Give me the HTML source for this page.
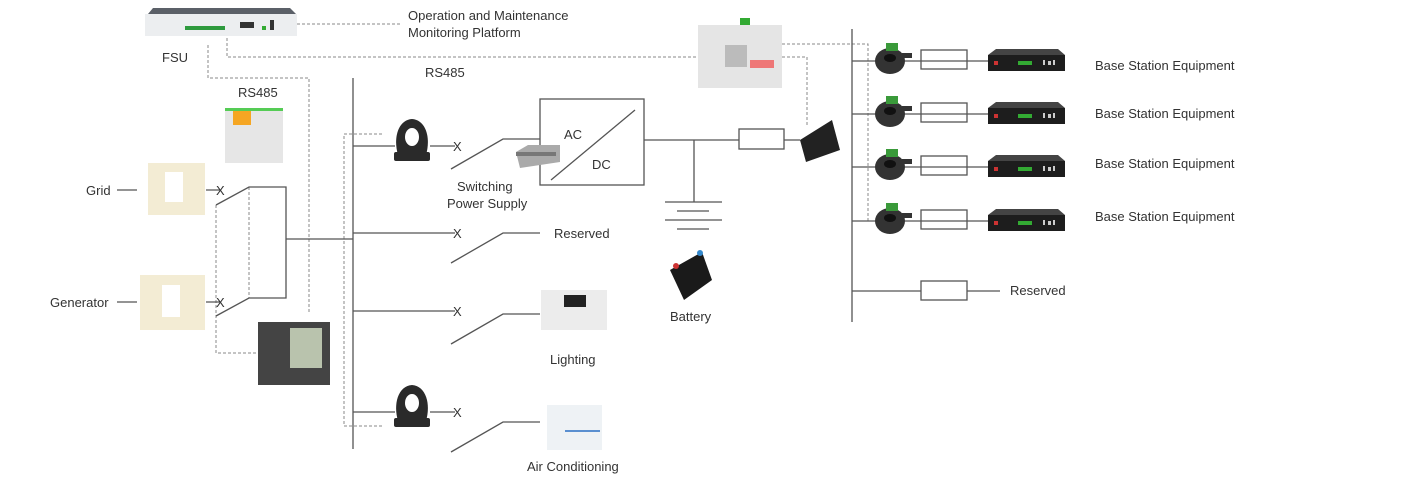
<!DOCTYPE html>
<html><head><meta charset="utf-8"><style>
html,body{margin:0;padding:0;background:#fff;}
svg{display:block;font-family:"Liberation Sans",sans-serif;}
text{font-size:13px;fill:#333;}
</style></head><body>
<svg width="1411" height="490" viewBox="0 0 1411 490" xmlns="http://www.w3.org/2000/svg">
<defs>
<g id="ct">
 <rect x="-18" y="10" width="36" height="9" rx="2" fill="#2a2a2a"/>
 <path d="M-14 13 C-19 -4 -14 -22 0 -23 C14 -22 19 -4 14 13 Z" fill="#2a2a2a"/>
 <ellipse cx="0" cy="-5" rx="7" ry="9" fill="#fff"/>
</g>
<g id="sct">
 <ellipse cx="14" cy="14" rx="15" ry="13" fill="#333"/>
 <ellipse cx="14" cy="11" rx="6" ry="4" fill="#111"/>
 <rect x="10" y="-4" width="12" height="8" fill="#3a9a3a"/>
 <rect x="26" y="6" width="10" height="5" fill="#333"/>
</g>
<g id="bse">
 <path d="M0 6 L8 0 L70 0 L77 6 Z" fill="#444"/>
 <rect x="0" y="6" width="77" height="16" fill="#1d1d1d"/>
 <rect x="6" y="12" width="4" height="4" fill="#c33"/>
 <rect x="30" y="12" width="14" height="4" fill="#3a3"/>
 <rect x="55" y="11" width="2" height="5" fill="#ccc"/><rect x="60" y="12" width="3" height="4" fill="#ccc"/><rect x="65" y="11" width="2" height="5" fill="#ccc"/>
</g>
</defs>

<rect x="145" y="14" width="152" height="22" fill="#eceef0"/>
<path d="M148 14 L153 8 L290 8 L296 14 Z" fill="#5b6068"/>
<rect x="185" y="26" width="40" height="4" fill="#2e9a3e"/>
<rect x="240" y="22" width="14" height="6" fill="#333"/>
<rect x="270" y="20" width="4" height="10" fill="#333"/>
<rect x="262" y="26" width="4" height="4" fill="#3a3"/>
<text x="162" y="62">FSU</text>
<text x="408" y="20">Operation and Maintenance</text>
<text x="408" y="37">Monitoring Platform</text>

<g stroke="#888" stroke-width="1" fill="none" stroke-dasharray="3,2">
 <path d="M297 24 H400"/>
 <path d="M227 38 V57 H698"/>
 <path d="M208 45 V78 H309 V313"/>
 <path d="M382 134 H344 V426 H382"/>
 <path d="M216 205 V353 H258"/>
 <path d="M249 187 V298"/>
 <path d="M782 44 H868 V222"/>
 <path d="M782 57 H807 V125"/>
</g>

<g stroke="#555" stroke-width="1.3" fill="none">
 <path d="M353 78 V449"/>
 <path d="M353 146 H395 M430 146 H455"/>
 <path d="M353 233 H455"/>
 <path d="M353 311 H455"/>
 <path d="M353 412 H395 M430 412 H455"/>
 <path d="M451 169 L503 139 H540"/>
 <path d="M451 263 L503 233 H540"/>
 <path d="M451 344 L503 314 H540"/>
 <path d="M451 452 L503 422 H540"/>
 <path d="M117 190 H137 M206 190 H220"/>
 <path d="M117 302 H137 M206 302 H220"/>
 <path d="M216 205 L249 187 H286 V298 H249 L216 316"/>
 <path d="M286 239 H353"/>
 <rect x="540" y="99" width="104" height="86"/>
 <path d="M551 180 L635 110"/>
 <path d="M644 140 H739 M784 140 H800"/>
 <rect x="739" y="129" width="45" height="20"/>
 <path d="M694 140 V202"/>
 <path d="M665 202 H722 M677 211 H709 M665 220 H722 M677 229 H709"/>
 <path d="M852 29 V322"/>
 <path d="M852 291 H921 M967 291 H1000"/>
 <rect x="921" y="50" width="46" height="19" fill="#fff"/>
 <rect x="921" y="103" width="46" height="19" fill="#fff"/>
 <rect x="921" y="156" width="46" height="19" fill="#fff"/>
 <rect x="921" y="210" width="46" height="19" fill="#fff"/>
 <rect x="921" y="281" width="46" height="19" fill="#fff"/>
</g>
<path d="M852 61 H990 M852 114 H990 M852 167 H990 M852 221 H990" stroke="#555" stroke-width="1.3"/>

<g font-size="13">
<text x="453" y="151">X</text><text x="453" y="238">X</text><text x="453" y="316">X</text><text x="453" y="417">X</text>
<text x="216" y="195">X</text><text x="216" y="307">X</text>
</g>

<use href="#ct" x="412" y="142"/>
<use href="#ct" x="412" y="408"/>
<rect x="148" y="163" width="57" height="52" fill="#f3ecd4"/><rect x="165" y="172" width="18" height="30" fill="#fff"/>
<rect x="140" y="275" width="65" height="55" fill="#f3ecd4"/><rect x="162" y="285" width="18" height="32" fill="#fff"/>
<rect x="225" y="108" width="58" height="55" fill="#e6e6e6"/><rect x="233" y="110" width="18" height="15" fill="#f5a623"/><rect x="225" y="108" width="58" height="3" fill="#5c5"/>
<rect x="258" y="322" width="72" height="63" fill="#444"/><rect x="290" y="328" width="32" height="40" fill="#b9c3ad"/>
<path d="M516 152 L528 145 L560 145 L560 162 L520 168 Z" fill="#aaa"/><rect x="516" y="152" width="40" height="4" fill="#777"/>
<rect x="698" y="25" width="84" height="63" fill="#e5e5e5"/><rect x="740" y="18" width="10" height="7" fill="#3a3"/><rect x="725" y="45" width="22" height="22" fill="#bbb"/>
<rect x="750" y="60" width="24" height="8" fill="#e77"/>
<path d="M800 140 L832 120 L840 150 L806 162 Z" fill="#222"/>
<path d="M670 270 L702 252 L712 280 L684 300 Z" fill="#1a1a1a"/>
<circle cx="676" cy="266" r="3" fill="#c33"/><circle cx="700" cy="253" r="3" fill="#38c"/>
<rect x="541" y="290" width="66" height="40" fill="#ececec"/><rect x="564" y="295" width="22" height="12" fill="#222"/>
<rect x="547" y="405" width="55" height="45" fill="#eef2f5"/><rect x="565" y="430" width="35" height="2" fill="#5a8fd0"/>
<use href="#sct" x="876" y="47"/><use href="#sct" x="876" y="100"/><use href="#sct" x="876" y="153"/><use href="#sct" x="876" y="207"/>
<use href="#bse" x="988" y="49"/><use href="#bse" x="988" y="102"/><use href="#bse" x="988" y="155"/><use href="#bse" x="988" y="209"/>

<text x="86" y="195">Grid</text>
<text x="50" y="307">Generator</text>
<text x="238" y="97">RS485</text>
<text x="425" y="77">RS485</text>
<text x="564" y="139" font-size="16">AC</text>
<text x="592" y="169" font-size="16">DC</text>
<text x="457" y="191">Switching</text>
<text x="447" y="208">Power Supply</text>
<text x="554" y="238">Reserved</text>
<text x="550" y="364">Lighting</text>
<text x="527" y="471">Air Conditioning</text>
<text x="670" y="321">Battery</text>
<text x="1095" y="70">Base Station Equipment</text>
<text x="1095" y="118">Base Station Equipment</text>
<text x="1095" y="168">Base Station Equipment</text>
<text x="1095" y="221">Base Station Equipment</text>
<text x="1010" y="295">Reserved</text>
</svg>
</body></html>
